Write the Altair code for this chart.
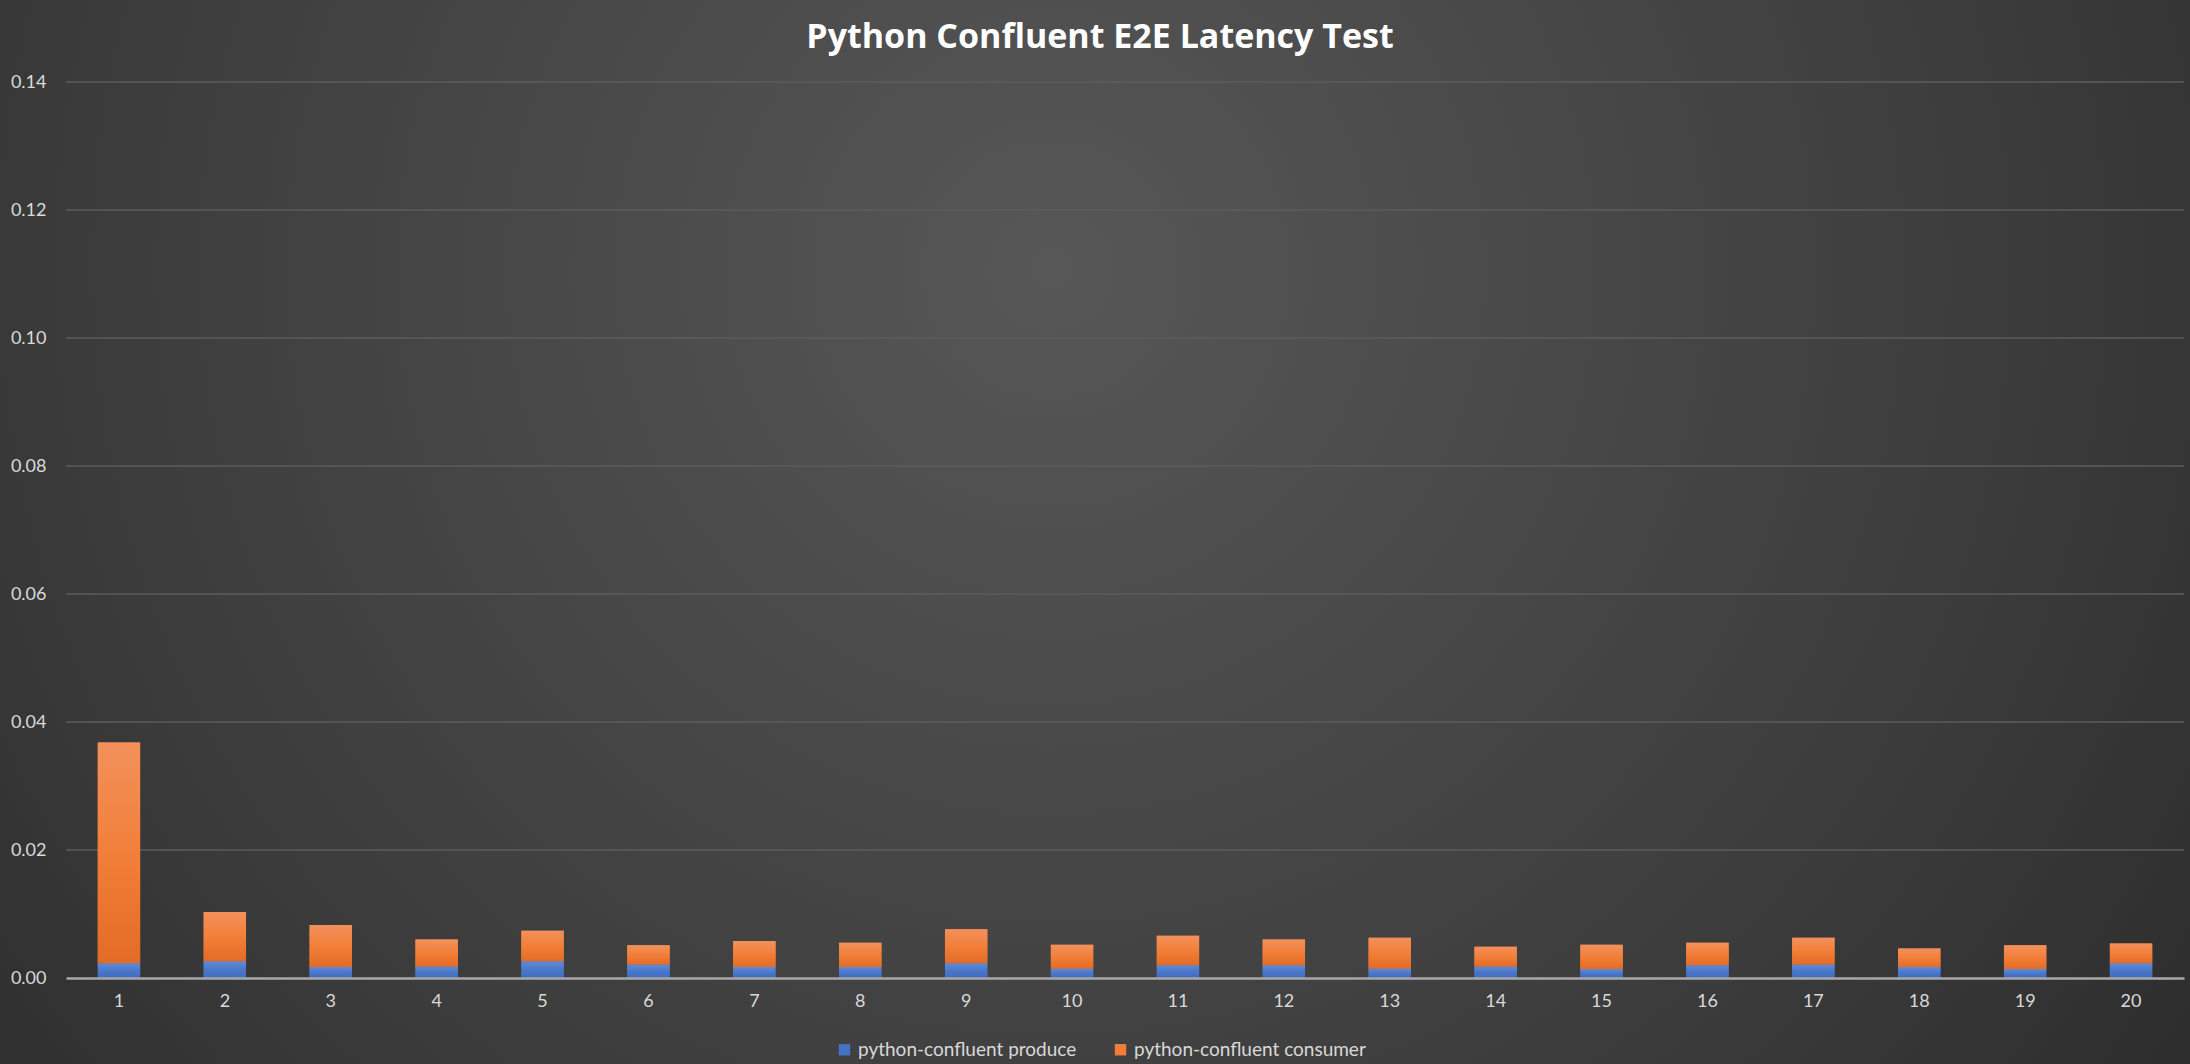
import altair as alt
import pandas as pd

runs = [str(i) for i in range(1, 21)]
totals = [0.0368, 0.0103, 0.0083, 0.0060, 0.0074, 0.0051, 0.0058, 0.0055, 0.0076, 0.0052,
          0.0066, 0.0060, 0.0063, 0.0049, 0.0052, 0.0055, 0.0063, 0.0046, 0.0051, 0.0054]
produce = [0.0023, 0.0026, 0.0017, 0.0018, 0.0026, 0.0021, 0.0017, 0.0017, 0.0023, 0.0015,
           0.0020, 0.0020, 0.0015, 0.0018, 0.0014, 0.0020, 0.0021, 0.0017, 0.0014, 0.0023]
series = ["python-confluent produce", "python-confluent consumer"]
colors = ["#4472C4", "#F07E39"]
y_ticks = [0, 0.02, 0.04, 0.06, 0.08, 0.10, 0.12, 0.14]

rows = []
for r, t, p in zip(runs, totals, produce):
    rows.append({"run": r, "series": series[0], "value": p, "ord": 0})
    rows.append({"run": r, "series": series[1], "value": round(t - p, 5), "ord": 1})
df = pd.DataFrame(rows)

W, H = 2118, 896
PL, PT = 66, 82

bg = alt.Chart(pd.DataFrame({"a": [0]})).mark_rect(
    fill=alt.RadialGradient(
        gradient="radial",
        stops=[alt.GradientStop(color="#575757", offset=0),
               alt.GradientStop(color="#3c3c3c", offset=0.6),
               alt.GradientStop(color="#272727", offset=1)],
        x1=0.48, y1=0.38, r1=0, x2=0.48, y2=0.38, r2=0.72),
).encode(
    x=alt.value(-PL), x2=alt.value(2190 - PL),
    y=alt.value(-PT), y2=alt.value(1064 - PT),
)

grid = alt.Chart(pd.DataFrame({"v": y_ticks[1:]})).mark_rule(
    color="#5c5c5c", strokeWidth=1.5
).encode(y=alt.Y("v:Q"))

x_enc = alt.X("run:N", sort=runs,
              scale=alt.Scale(paddingInner=0.6, paddingOuter=0.3),
              axis=alt.Axis(title=None, labelAngle=0, ticks=False, labelPadding=14,
                            labelFontSize=18, labelColor="#d9d9d9", labelFont="Lato",
                            domainColor="#a8a8a8", domainWidth=2.5, grid=False, zindex=1))

bars = alt.Chart(df).mark_bar().encode(
    x=x_enc,
    y=alt.Y("value:Q", stack="zero",
            scale=alt.Scale(domain=[0, 0.14], nice=False),
            axis=alt.Axis(title=None, values=y_ticks,
                          format=".2f", ticks=False, domain=False, labelPadding=20,
                          labelFontSize=18, labelColor="#d9d9d9", labelFont="Lato",
                          grid=False, zindex=1)),
    color=alt.Color("series:N", scale=alt.Scale(domain=series, range=colors),
                    legend=alt.Legend(title=None, orient="none", legendX=769, legendY=958,
                                      direction="horizontal", symbolType="square",
                                      symbolSize=130, symbolStrokeWidth=0,
                                      labelFontSize=19, labelColor="#d9d9d9",
                                      labelFont="Lato", columnPadding=34,
                                      labelOffset=4, labelLimit=500, zindex=1)),
    order=alt.Order("ord:Q"),
)

stacked = alt.Chart(df).transform_stack(
    stack="value", groupby=["run"], as_=["v0", "v1"], sort=[alt.SortField("ord")]
)

def grad(top, mid, bottom):
    return alt.LinearGradient(
        gradient="linear",
        stops=[alt.GradientStop(color=top, offset=0),
               alt.GradientStop(color=mid, offset=0.5),
               alt.GradientStop(color=bottom, offset=1)],
        x1=0, y1=0, x2=0, y2=1)

prod_g = stacked.transform_filter(alt.datum.ord == 0).mark_bar(
    fill=grad("#5f8bd8", "#4a77c8", "#3f6cc2")
).encode(x=x_enc, y=alt.Y("v0:Q"), y2="v1:Q")

cons_g = stacked.transform_filter(alt.datum.ord == 1).mark_bar(
    fill=grad("#f2915c", "#f27f39", "#e36b25")
).encode(x=x_enc, y=alt.Y("v0:Q"), y2="v1:Q")

chart = alt.layer(bg, grid, bars, prod_g, cons_g).properties(
    width=W, height=H,
    autosize=alt.AutoSizeParams(type="none"),
    padding={"left": PL, "top": PT, "right": 2190 - PL - W, "bottom": 1064 - PT - H},
    title=alt.TitleParams("Python Confluent E2E Latency Test", anchor="middle",
                          fontSize=34, font="Open Sans", fontWeight="bold",
                          color="#ffffff", offset=-55, dx=-25, zindex=1),
).configure(background="#333333").configure_view(stroke=None)

chart.save("out.html", embed_options={"renderer": "svg", "actions": False})
